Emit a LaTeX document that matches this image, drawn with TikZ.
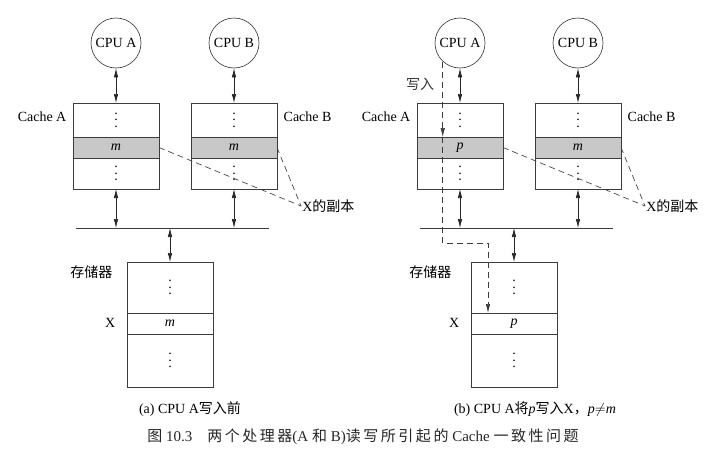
\documentclass[tikz,border=0pt]{standalone}
\usepackage{fontspec}
\setmainfont{Liberation Serif}
\newfontfamily\cjk{Noto Sans CJK SC}
\newfontfamily\cjkcap[LetterSpace=17]{Noto Sans CJK SC}
\usepackage{tikz}
\usepackage{xcolor}
\usetikzlibrary{arrows.meta, positioning}
\definecolor{cacheline}{RGB}{60, 60, 60}
\definecolor{cachegray}{RGB}{200, 200, 200}
\newcommand{\celldots}{\vbox{\baselineskip=6.5pt\lineskiplimit=0pt\hbox{.}\hbox{.}\hbox{.}}}
\tikzstyle{cpunode} = [circle, draw=cacheline, minimum size=50pt, inner sep=0pt]
\tikzstyle{cellnode} = [rectangle, draw=cacheline, minimum width=86pt, inner sep=0pt, outer sep=0pt]
\tikzstyle{rownode} = [cellnode, minimum height=21pt]
\tikzstyle{copyrow} = [rownode, fill=cachegray]
\tikzstyle{arrow} = [draw=black!85, <->, >={Latex[length=9pt,width=4.5pt]}]
\tikzstyle{copyline} = [draw=cacheline, dash pattern=on 6pt off 4pt]
\tikzstyle{writeline} = [copyline, ->, >={Latex[length=9pt,width=4.5pt]}]

\begin{document}
\begin{tikzpicture}[x=1pt, y=-1pt, line width=0.65pt, font=\fontsize{14}{16}\selectfont]
    \useasboundingbox (0,0) rectangle (725,458);

    % (a) before CPU A writes
    \node[cpunode] (cpuA) at (116,43) {CPU A};
    \node[cpunode] (cpuB) at (234,43) {CPU B};

    \node[cellnode, minimum height=34pt] (cacheAtop) at (116,120) {\celldots};
    \node[copyrow, below=0pt of cacheAtop] (cacheAmid) {\textit{m}};
    \node[cellnode, minimum height=31pt, below=0pt of cacheAmid] (cacheAbot) {\celldots};
    \node[anchor=east] (labelA) at (70,117) {Cache A};

    \node[cellnode, minimum height=34pt] (cacheBtop) at (234,120) {\celldots};
    \node[copyrow, below=0pt of cacheBtop] (cacheBmid) {\textit{m}};
    \node[cellnode, minimum height=31pt, below=0pt of cacheBmid] (cacheBbot) {\celldots};
    \node[anchor=west] (labelB) at (280,117) {Cache B};

    \coordinate (busL) at (76,228);
    \coordinate (busR) at (269,228);
    \draw[draw=cacheline] (busL) -- (busR);

    \node[cellnode, minimum height=51pt] (memtop) at (170,287.5) {\celldots};
    \node[rownode, below=0pt of memtop] (memX) {\textit{m}};
    \node[cellnode, minimum height=53pt, below=0pt of memX] (membot) {\celldots};
    \node[anchor=east] (memlabel) at (116,272) {\cjk 存储器};
    \node[anchor=east] (xlabel) at (119,323) {X};

    \node[anchor=west, inner sep=1pt] (copyA) at (301,206) {X{\cjk 的副本}};

    \draw[arrow] (cpuA) -- (cacheAtop);
    \draw[arrow] (cpuB) -- (cacheBtop);
    \draw[arrow] (cacheAbot) -- (cacheAbot.south |- busL);
    \draw[arrow] (cacheBbot) -- (cacheBbot.south |- busL);
    \draw[arrow] (memtop.north |- busL) -- (memtop);
    \draw[copyline] (cacheAmid.east) -- (copyA.west);
    \draw[copyline] (cacheBmid.east) -- (copyA.west);

    \node (capA) at (190,409) {(a) CPU A{\cjk 写入前}};

    % (b) CPU A writes p into X
    \node[cpunode] (cpuA2) at (460,43) {CPU A};
    \node[cpunode] (cpuB2) at (578,43) {CPU B};

    \node[cellnode, minimum height=34pt] (cacheAtop2) at (460,120) {\celldots};
    \node[copyrow, below=0pt of cacheAtop2] (cacheAmid2) {\textit{p}};
    \node[cellnode, minimum height=31pt, below=0pt of cacheAmid2] (cacheAbot2) {\celldots};
    \node[anchor=east] (labelA2) at (414,117) {Cache A};

    \node[cellnode, minimum height=34pt] (cacheBtop2) at (578,120) {\celldots};
    \node[copyrow, below=0pt of cacheBtop2] (cacheBmid2) {\textit{m}};
    \node[cellnode, minimum height=31pt, below=0pt of cacheBmid2] (cacheBbot2) {\celldots};
    \node[anchor=west] (labelB2) at (624,117) {Cache B};

    \coordinate (busL2) at (420,228);
    \coordinate (busR2) at (613,228);
    \draw[draw=cacheline] (busL2) -- (busR2);

    \node[cellnode, minimum height=51pt] (memtop2) at (514,287.5) {\celldots};
    \node[rownode, below=0pt of memtop2] (memX2) {\textit{p}};
    \node[cellnode, minimum height=53pt, below=0pt of memX2] (membot2) {\celldots};
    \node[anchor=east] (memlabel2) at (455,272) {\cjk 存储器};
    \node[anchor=east] (xlabel2) at (463,323) {X};

    \node[anchor=west, inner sep=1pt] (copyA2) at (645,206) {X{\cjk 的副本}};

    \draw[arrow] (cpuA2) -- (cacheAtop2);
    \draw[arrow] (cpuB2) -- (cacheBtop2);
    \draw[arrow] (cacheAbot2) -- (cacheAbot2.south |- busL2);
    \draw[arrow] (cacheBbot2) -- (cacheBbot2.south |- busL2);
    \draw[arrow] (memtop2.north |- busL2) -- (memtop2);
    \draw[copyline] (cacheAmid2.east) -- (copyA2.west);
    \draw[copyline] (cacheBmid2.east) -- (copyA2.west);

    % write path
    \coordinate (turn) at (488,243);
    \node[text=black!80] (writelabel) at (420,84) {\cjk 写入};
    \draw[writeline] (cpuA2.227) -- (cpuA2.227 |- cacheAmid2.north);
    \draw[writeline] (cpuA2.227 |- cacheAmid2.north) -- (cpuA2.227 |- turn) -- (turn) -- (turn |- memX2.north);

    \node (capB) at (535,409) {(b) CPU A{\cjk 将}\textit{p}{\cjk 写入}X{\cjk ，}\textit{p}$\neq$\textit{m}};

    \node[text=black!85, font=\fontsize{15}{17}\selectfont] (figcap) at (363,437) {{\cjkcap 图} 10.3\quad{\cjkcap 两个处理器}(A {\cjkcap 和} B){\cjkcap 读写所引起的} Cache {\cjkcap 一致性问题}};
\end{tikzpicture}
\end{document}
